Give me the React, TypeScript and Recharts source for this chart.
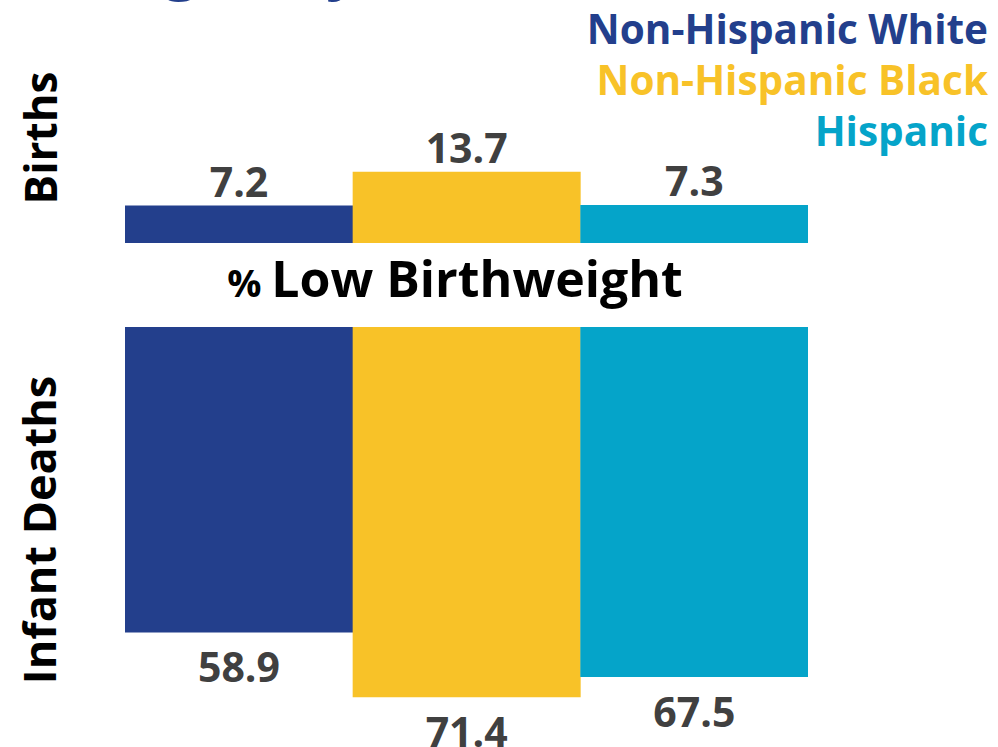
import React from 'react';
import { BarChart, Bar, XAxis, YAxis, Cell, LabelList } from 'recharts';

const groups = ['Non-Hispanic White', 'Non-Hispanic Black', 'Hispanic'];
const colors = ['#233F8C', '#F8C228', '#05A4C9'];
const birthsPct = [7.2, 13.7, 7.3];
const deathsPct = [58.9, 71.4, 67.5];

const birthsData = groups.map((g, i) => ({ name: g, value: birthsPct[i] }));
const deathsData = groups.map((g, i) => ({ name: g, value: deathsPct[i] }));

const FONT = '"Open Sans", "Noto Sans", sans-serif';
const LABEL_COLOR = '#404040';

const TopLabel = (props: any) => {
    const { x, y, width, value } = props;
    return (
        <text x={x + width / 2} y={y - 9} textAnchor="middle" fill={LABEL_COLOR}
            fontFamily={FONT} fontWeight={700} fontSize={41}>
            {value}
        </text>
    );
};

const BottomLabel = (props: any) => {
    const { x, y, width, height, value } = props;
    const bottom = Math.max(y, y + height);
    return (
        <text x={x + width / 2} y={bottom + 50} textAnchor="middle" fill={LABEL_COLOR}
            fontFamily={FONT} fontWeight={700} fontSize={41}>
            {value}
        </text>
    );
};

export default function App() {
    return (
        <div style={{ position: 'absolute', left: 0, top: 0, width: 998, height: 747, overflow: 'hidden', background: '#fff' }}>
            {/* Births panel, bars grow up from y=243 */}
            <div style={{ position: 'absolute', left: 125, top: 87, width: 683, height: 156 }}>
                <BarChart width={683} height={156} data={birthsData} barCategoryGap={0}
                    margin={{ top: 0, right: 0, bottom: 0, left: 0 }} style={{ overflow: 'visible' }}>
                    <XAxis dataKey="name" hide />
                    <YAxis hide domain={[0, 30]} />
                    <Bar dataKey="value" isAnimationActive={false}>
                        {birthsData.map((d, i) => <Cell key={d.name} fill={colors[i]} />)}
                        <LabelList dataKey="value" content={TopLabel} />
                    </Bar>
                </BarChart>
            </div>

            {/* Infant deaths panel, bars hang down from y=327 */}
            <div style={{ position: 'absolute', left: 125, top: 327, width: 683, height: 420 }}>
                <BarChart width={683} height={420} data={deathsData} barCategoryGap={0}
                    margin={{ top: 0, right: 0, bottom: 0, left: 0 }} style={{ overflow: 'visible' }}>
                    <XAxis dataKey="name" hide />
                    <YAxis hide reversed domain={[0, 81]} />
                    <Bar dataKey="value" isAnimationActive={false}>
                        {deathsData.map((d, i) => <Cell key={d.name} fill={colors[i]} />)}
                        <LabelList dataKey="value" content={BottomLabel} />
                    </Bar>
                </BarChart>
            </div>

            {/* Text overlay */}
            <svg width={998} height={747} style={{ position: 'absolute', left: 0, top: 0, pointerEvents: 'none' }}
                fontFamily={FONT} fontWeight={700}>
                {/* title, mostly cut off above the picture */}
                <text x={22} y={-14} fill={colors[0]} fontSize={64}>(Weight by Race)</text>

                {/* legend */}
                {groups.map((g, i) => (
                    <text key={g} x={988} y={44 + i * 51} textAnchor="end" fill={colors[i]} fontSize={40.5}>{g}</text>
                ))}

                <text x={57} y={138} textAnchor="middle" fontSize={44} fill="#000"
                    transform="rotate(-90 57 138)">Births</text>
                <text x={56} y={530} textAnchor="middle" fontSize={45} fill="#000"
                    transform="rotate(-90 56 530)">Infant Deaths</text>

                <text x={455} y={297} textAnchor="middle" fill="#000">
                    <tspan fontSize={38}>% </tspan>
                    <tspan fontSize={50}>Low Birthweight</tspan>
                </text>
            </svg>
        </div>
    );
}
